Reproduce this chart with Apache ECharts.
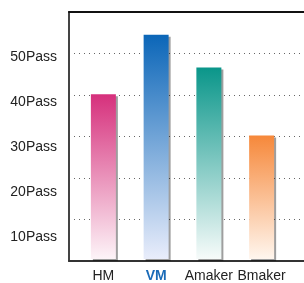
<!DOCTYPE html>
<html>
<head>
<meta charset="utf-8">
<script src="https://cdn.jsdelivr.net/npm/echarts@6/dist/echarts.min.js"></script>
<style>
  html, body { margin: 0; padding: 0; background: #fff; }
  #chart { width: 304px; height: 283px; }
</style>
</head>
<body>
<div id="chart"></div>
<script>
const categories = ["HM", "VM", "Amaker", "Bmaker"];
const passValues = [40, 54.5, 46.5, 30];
const tickLabels = [10, 20, 30, 40, 50];
const topColors = ["#d6307c", "#0b66b8", "#0a968a", "#f6883a"];
const bottomColors = ["#fdf4f8", "#e9edfb", "#f7fbfa", "#fff6ee"];

const chart = echarts.init(document.getElementById("chart"));

const barData = passValues.map((v, i) => ({
  value: v,
  itemStyle: {
    color: new echarts.graphic.LinearGradient(0, 0, 0, 1, [
      { offset: 0, color: topColors[i] },
      { offset: 1, color: bottomColors[i] }
    ])
  }
}));

chart.setOption({
  animation: false,
  grid: [
    { left: 69, right: -20, top: 12, bottom: 22 },
    { left: 77, right: 16, top: 12, bottom: 22 }
  ],
  xAxis: [
    {
      gridIndex: 0, type: "value", position: "bottom", min: 0, max: 1,
      axisLine: { show: true, lineStyle: { color: "#333", width: 2 } },
      axisTick: { show: false }, axisLabel: { show: false }, splitLine: { show: false }
    },
    {
      gridIndex: 0, type: "value", position: "top", min: 0, max: 1,
      axisLine: { show: true, lineStyle: { color: "#111", width: 2 } },
      axisTick: { show: false }, axisLabel: { show: false }, splitLine: { show: false }
    },
    {
      gridIndex: 1, type: "category", data: categories.map((c) =>
        c === "VM" ? { value: c, textStyle: { color: "#1a6bb8", fontWeight: "bold" } } : c),
      axisLine: { show: false }, axisTick: { show: false },
      axisLabel: {
        interval: 0, hideOverlap: false, color: "#222", fontSize: 14,
        fontFamily: "Liberation Sans, Arial, sans-serif", margin: 10
      }
    }
  ],
  yAxis: [
    {
      gridIndex: 0, type: "value", min: 0, max: 60, interval: 10,
      axisLine: { show: true, lineStyle: { color: "#444", width: 2 } },
      axisTick: { show: false }, axisLabel: { show: false },
      splitLine: { show: true, lineStyle: { color: "#666", type: [1, 4], width: 1 } }
    },
    {
      gridIndex: 0, type: "value", min: 4.67, max: 60, position: "left",
      axisLine: { show: false }, axisTick: { show: false }, splitLine: { show: false },
      axisLabel: {
        customValues: tickLabels, margin: 12, color: "#222", fontSize: 14,
        fontFamily: "Liberation Sans, Arial, sans-serif", formatter: (v) => v + "Pass"
      }
    },
    {
      gridIndex: 1, type: "value", min: 0, max: 60, show: false
    }
  ],
  series: [
    {
      type: "bar", xAxisIndex: 2, yAxisIndex: 2, barWidth: 25,
      itemStyle: {
        shadowColor: "rgba(0,0,0,0.38)", shadowOffsetX: 2, shadowOffsetY: 2, shadowBlur: 0
      },
      data: barData
    }
  ]
});
</script>
</body>
</html>
